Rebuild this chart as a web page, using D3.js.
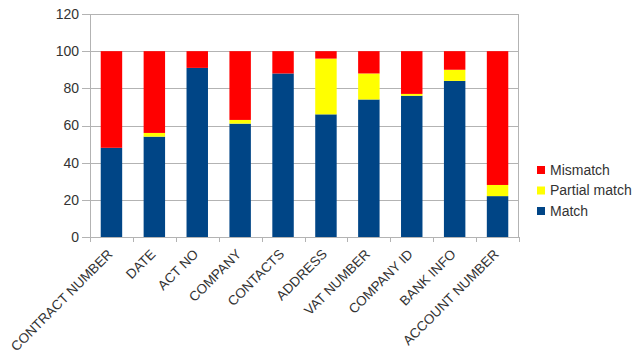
<!DOCTYPE html>
<html><head><meta charset="utf-8">
<script src="https://cdn.jsdelivr.net/npm/d3@7"></script>
<style>body{margin:0;background:#fff}svg{display:block}text{font-family:"Liberation Sans",Arial,sans-serif;fill:#333}</style>
</head><body>
<script>
const categories = ["CONTRACT NUMBER","DATE","ACT NO","COMPANY","CONTACTS","ADDRESS","VAT NUMBER","COMPANY ID","BANK INFO","ACCOUNT NUMBER"];
const match = [48,54,91,61,88,66,74,76,84,22];
const partial = [0,2,0,2,0,30,14,1,6,6];
const mismatch = [52,44,9,37,12,4,12,23,10,72];
const seriesNames = ["Match","Partial match","Mismatch"];
const seriesColors = ["#004586","#ffff00","#ff0000"];
const yTicks = [0,20,40,60,80,100,120];

const W=635,H=355;
const svg=d3.select("body").append("svg").attr("width",W).attr("height",H);
const x=d3.scaleBand().domain(categories).range([90,519]).paddingInner(0.5).paddingOuter(0.25);
const y=d3.scaleLinear().domain([0,120]).range([237,14]);

// grid
svg.append("g").selectAll("line").data(yTicks).join("line")
 .attr("x1",90).attr("x2",519).attr("y1",d=>Math.round(y(d))+0.5).attr("y2",d=>Math.round(y(d))+0.5)
 .attr("stroke","#b3b3b3").attr("stroke-width",1);
// right border
svg.append("line").attr("x1",518.5).attr("x2",518.5).attr("y1",14).attr("y2",237).attr("stroke","#b3b3b3");

const rows=categories.map((c,i)=>({cat:c,Match:match[i],"Partial match":partial[i],Mismatch:mismatch[i]}));
const stack=d3.stack().keys(seriesNames)(rows);
svg.append("g").selectAll("g").data(stack).join("g").attr("fill",(d,i)=>seriesColors[i])
 .selectAll("rect").data(d=>d).join("rect")
 .attr("x",d=>x(d.data.cat)).attr("width",x.bandwidth())
 .attr("y",d=>y(d[1])).attr("height",d=>y(d[0])-y(d[1]));

// y axis
svg.append("line").attr("x1",90.5).attr("x2",90.5).attr("y1",14).attr("y2",242).attr("stroke","#b3b3b3");
svg.append("g").selectAll("line").data(yTicks).join("line")
 .attr("x1",82).attr("x2",90).attr("y1",d=>Math.round(y(d))+0.5).attr("y2",d=>Math.round(y(d))+0.5).attr("stroke","#b3b3b3");
svg.append("g").selectAll("text").data(yTicks).join("text")
 .attr("x",79).attr("y",d=>y(d)).attr("dy","0.35em").attr("text-anchor","end").attr("font-size",14).text(d=>d);
// x ticks at boundaries
const bounds=d3.range(categories.length+1).map(i=>90+i*(429/categories.length));
svg.append("g").selectAll("line").data(bounds).join("line")
 .attr("x1",d=>Math.round(d)+0.5).attr("x2",d=>Math.round(d)+0.5).attr("y1",237).attr("y2",242).attr("stroke","#b3b3b3");
// x labels
svg.append("g").selectAll("text").data(categories).join("text")
 .attr("transform",d=>`translate(${x(d)+x.bandwidth()/2+2},${255}) rotate(-45)`)
 .attr("text-anchor","end").attr("font-size",13.5).text(d=>d);

// legend
const leg=[["Mismatch","#ff0000"],["Partial match","#ffff00"],["Match","#004586"]];
const lg=svg.append("g").selectAll("g").data(leg).join("g").attr("transform",(d,i)=>`translate(537,${170+i*20.5})`);
lg.append("rect").attr("x",0).attr("y",-4).attr("width",8).attr("height",8).attr("fill",d=>d[1]);
lg.append("text").attr("x",13).attr("y",0).attr("dy","0.35em").attr("font-size",14).text(d=>d[0]);
</script>
</body></html>
